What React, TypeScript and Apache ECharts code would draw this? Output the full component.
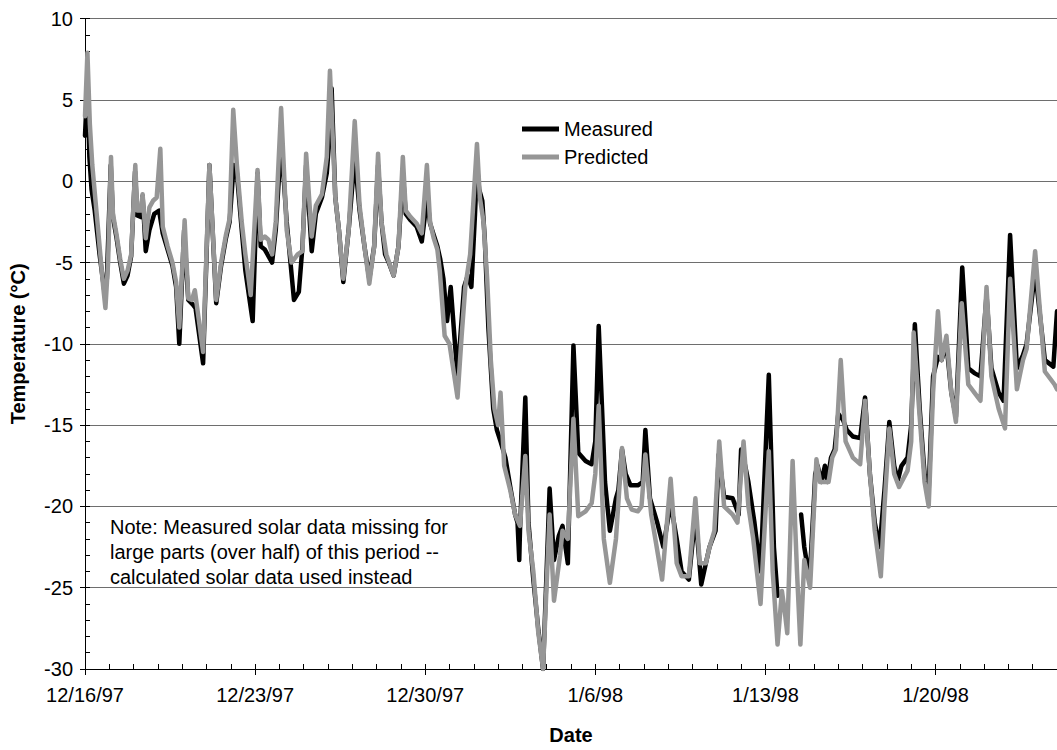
import React, { useEffect, useRef } from "react";
import * as echarts from "echarts";

// Hourly-ish air temperature, days since 12/16/97 -> °C
const measured: ([number, number] | [number, null])[] = [
  [0, 2.8], [0.1, 6.1], [0.18, 1.5], [0.27, -0.5], [0.4, -1.8], [0.6, -4.5], [0.8, -6.8], [0.9, -6.0],
  [1.06, 1.0], [1.15, -2.2], [1.3, -3.5], [1.45, -5.0], [1.6, -6.3], [1.75, -5.8], [1.9, -4.6],
  [2.06, 0.6], [2.15, -2.1], [2.3, -2.2], [2.37, -0.9], [2.5, -4.3], [2.65, -3.0], [2.85, -2.0], [3.05, -1.8],
  [3.2, -3.2], [3.4, -4.2], [3.6, -5.2], [3.75, -6.5], [3.88, -10.0], [4.08, -3.0], [4.25, -7.3], [4.45, -7.6],
  [4.55, -7.8], [4.86, -11.2], [5.12, 1.0], [5.4, -7.5], [5.6, -5.2], [5.8, -3.5], [5.95, -2.5], [6.12, 1.0],
  [6.25, 0.5], [6.45, -3.0], [6.6, -5.5], [6.9, -8.6], [7.1, 0.5], [7.23, -4.0], [7.4, -4.2], [7.55, -4.6],
  [7.7, -5.0], [7.85, -3.0], [8.07, 2.5], [8.3, -2.5], [8.6, -7.3], [8.8, -6.8], [8.95, -4.0], [9.1, 1.0],
  [9.33, -4.3], [9.5, -2.0], [9.75, -1.0], [9.95, 0.5], [10.05, 2.5], [10.15, 5.7], [10.3, -1.0], [10.45, -3.0],
  [10.63, -6.2], [10.85, -3.0], [11.1, 1.5], [11.3, -1.8], [11.5, -4.0], [11.7, -6.0], [11.9, -4.0], [12.06, 1.0],
  [12.2, -2.5], [12.35, -4.5], [12.5, -5.0], [12.7, -5.8], [12.9, -4.0], [13.08, 0.5], [13.2, -2.0], [13.4, -2.4],
  [13.65, -2.8], [13.86, -3.7], [14.08, -1.0], [14.2, -2.6], [14.35, -3.3], [14.5, -4.0], [14.62, -4.8],
  [14.75, -6.0], [14.9, -8.6], [15.05, -6.5], [15.2, -9.5], [15.33, -12.0], [15.45, -9.5], [15.6, -6.5],
  [15.75, -5.8], [15.9, -6.5], [16.05, -2.0], [16.13, 1.0], [16.22, -0.5], [16.35, -1.2], [16.45, -3.5],
  [16.6, -9.0], [16.8, -14.0], [16.95, -15.3], [17.1, -16.0], [17.3, -17.0], [17.5, -18.8], [17.7, -20.5],
  [17.8, -21.0], [17.87, -23.3], [17.9, -21.5], [18.12, -13.3], [18.25, -21.0], [18.45, -24.5], [18.65, -27.5],
  [18.85, -30.0], [19.12, -18.9], [19.3, -23.3], [19.5, -21.8], [19.65, -21.2], [19.87, -23.5], [20.1, -10.1],
  [20.3, -16.7], [20.6, -17.2], [20.85, -17.4], [21.0, -16.0], [21.14, -8.9], [21.4, -18.5], [21.6, -21.5],
  [21.85, -19.5], [21.95, -19.0], [22.1, -16.5], [22.25, -18.0], [22.45, -18.7], [22.75, -18.7], [22.95, -18.5],
  [23.06, -15.3], [23.25, -19.5], [23.55, -21.0], [23.8, -22.5], [24.1, -19.8], [24.35, -22.0], [24.55, -24.0],
  [24.85, -24.5], [25.12, -20.5], [25.36, -24.8], [25.55, -23.5], [25.7, -22.5], [25.95, -21.5], [26.08, -16.8],
  [26.3, -19.4], [26.65, -19.5], [26.9, -20.5], [27.0, -16.5], [27.1, -17.0], [27.3, -18.5], [27.55, -21.0],
  [27.8, -24.0], [28.14, -11.9], [28.35, -22.5], [28.5, -25.5], [29.0, null],
  [29.47, -20.5], [29.6, -22.5], [29.82, -24.5], [30.0, -19.5], [30.05, -18.0], [30.15, -17.5], [30.3, -18.5],
  [30.45, -17.5], [30.55, -18.5], [30.7, -17.0], [30.85, -16.5], [31.0, -14.3], [31.2, -14.7], [31.35, -15.3],
  [31.6, -15.7], [31.9, -15.8], [32.1, -13.3], [32.3, -18.0], [32.5, -21.0], [32.7, -22.5], [32.9, -19.0],
  [33.1, -14.8], [33.3, -17.5], [33.45, -18.4], [33.6, -17.5], [33.85, -17.0], [34.0, -15.0], [34.15, -8.8],
  [34.35, -14.0], [34.55, -18.0], [34.72, -19.0], [34.9, -12.0], [35.1, -10.8], [35.25, -11.0], [35.45, -10.0],
  [35.65, -13.0], [35.84, -14.5], [36.1, -5.3], [36.35, -11.5], [36.6, -11.8], [36.85, -12.0], [37.1, -7.0],
  [37.3, -11.5], [37.6, -13.0], [37.8, -13.5], [38.07, -3.3], [38.35, -11.5], [38.6, -10.7], [38.75, -10.0],
  [39.1, -5.5], [39.5, -11.0], [39.85, -11.4], [40.0, -8.0],
];

const predicted: [number, number][] = [
  [0, 4.0], [0.1, 7.9], [0.2, 3.5], [0.3, 1.0], [0.45, -1.5], [0.6, -4.0], [0.75, -6.5], [0.84, -7.8],
  [0.95, -5.0], [1.07, 1.5], [1.15, -2.0], [1.3, -3.3], [1.45, -4.8], [1.6, -6.0], [1.75, -5.5], [1.9, -4.5],
  [2.07, 1.0], [2.15, -1.8], [2.3, -1.8], [2.37, -0.8], [2.5, -3.5], [2.65, -1.6], [2.8, -1.2], [2.95, -1.0],
  [3.1, 2.0], [3.2, -2.8], [3.4, -4.0], [3.6, -5.0], [3.75, -6.2], [3.88, -9.0], [4.1, -2.4], [4.25, -7.2],
  [4.4, -7.3], [4.52, -6.7], [4.86, -10.5], [5.12, 1.0], [5.4, -7.3], [5.6, -5.0], [5.8, -3.3], [5.95, -2.3],
  [6.1, 4.4], [6.25, 1.0], [6.45, -2.5], [6.6, -4.5], [6.82, -7.0], [7.1, 0.7], [7.23, -3.6], [7.4, -3.4],
  [7.55, -3.6], [7.7, -4.5], [7.85, -2.5], [8.07, 4.5], [8.3, -3.0], [8.5, -5.0], [8.75, -4.5], [8.95, -4.3],
  [9.1, 1.7], [9.33, -3.4], [9.5, -1.5], [9.75, -0.8], [9.95, 1.5], [10.08, 6.8], [10.3, -1.0], [10.45, -3.0],
  [10.63, -6.0], [10.85, -3.0], [11.1, 3.7], [11.3, -1.5], [11.5, -4.0], [11.7, -6.3], [11.9, -4.0], [12.06, 1.7],
  [12.2, -2.5], [12.4, -4.5], [12.7, -5.8], [12.9, -4.0], [13.08, 1.5], [13.2, -1.8], [13.4, -2.2], [13.65, -2.6],
  [13.86, -3.2], [14.07, 1.0], [14.2, -2.5], [14.35, -3.5], [14.5, -4.2], [14.6, -5.5], [14.8, -9.5], [15.0, -10.0],
  [15.33, -13.3], [15.5, -9.5], [15.65, -6.5], [15.85, -4.5], [16.13, 2.3], [16.25, -1.0], [16.4, -2.5],
  [16.55, -6.0], [16.7, -11.0], [16.85, -14.0], [17.0, -15.0], [17.1, -13.0], [17.25, -17.5], [17.5, -19.0],
  [17.7, -20.5], [17.9, -21.2], [18.12, -16.9], [18.25, -21.5], [18.45, -24.0], [18.65, -27.7], [18.85, -30.0],
  [19.12, -20.5], [19.3, -25.8], [19.55, -23.0], [19.65, -21.5], [19.87, -22.0], [20.1, -14.6], [20.3, -20.6],
  [20.6, -20.3], [20.85, -19.8], [21.0, -18.0], [21.14, -13.8], [21.35, -22.0], [21.6, -24.7], [21.85, -22.0],
  [22.1, -16.4], [22.3, -19.5], [22.5, -20.2], [22.75, -20.3], [22.9, -20.0], [23.06, -16.8], [23.3, -20.5],
  [23.47, -22.0], [23.75, -24.5], [24.1, -18.3], [24.35, -23.5], [24.55, -24.3], [24.85, -24.3], [25.12, -19.5],
  [25.3, -23.5], [25.55, -23.5], [25.7, -22.5], [25.9, -21.5], [26.1, -16.0], [26.3, -20.0], [26.65, -20.5],
  [26.85, -21.0], [27.1, -16.0], [27.3, -20.0], [27.5, -22.0], [27.8, -26.0], [28.14, -16.6], [28.3, -24.0],
  [28.5, -28.5], [28.68, -25.2], [28.8, -26.5], [28.9, -27.8], [29.12, -17.2], [29.3, -24.0], [29.44, -28.5],
  [29.6, -23.3], [29.84, -25.0], [30.1, -17.1], [30.25, -18.5], [30.45, -18.5], [30.6, -18.5], [30.75, -17.0],
  [30.9, -16.5], [31.1, -11.0], [31.3, -16.0], [31.6, -17.0], [31.9, -17.4], [32.1, -13.5], [32.3, -18.0],
  [32.5, -21.5], [32.75, -24.3], [32.9, -20.0], [33.1, -15.2], [33.3, -18.0], [33.5, -18.8], [33.85, -17.8],
  [34.0, -16.0], [34.1, -9.3], [34.35, -14.5], [34.55, -18.5], [34.72, -20.0], [34.9, -13.0], [35.1, -8.0],
  [35.25, -11.0], [35.45, -9.5], [35.65, -13.0], [35.84, -14.8], [36.08, -7.5], [36.35, -12.5], [36.6, -13.0],
  [36.85, -13.5], [37.1, -6.5], [37.3, -12.0], [37.6, -14.0], [37.86, -15.2], [38.07, -6.0], [38.35, -12.8],
  [38.6, -11.0], [38.75, -10.3], [39.1, -4.3], [39.5, -11.7], [39.9, -12.5], [40.0, -12.8],
];

// Weekly date labels (every 7 days from 12/16/97)
const weekLabels = ["12/16/97", "12/23/97", "12/30/97", "1/6/98", "1/13/98", "1/20/98"];

const noteLines = [
  "Note: Measured solar data missing for",
  "large parts (over half) of this period --",
  "calculated solar data used instead",
];

const FONT = "'Liberation Sans', Arial, Helvetica, sans-serif";

export default function App() {
  const ref = useRef<HTMLDivElement>(null);

  useEffect(() => {
    if (!ref.current) return;
    const chart = echarts.init(ref.current, undefined, { renderer: "svg" });
    const axisBlack = { lineStyle: { color: "#000", width: 1 } };

    chart.setOption({
      animation: false,
      backgroundColor: "#fff",
      textStyle: { fontFamily: FONT },
      grid: { left: 84.5, right: 0, top: 18.7, bottom: 75.3, containLabel: false },
      legend: {
        data: ["Measured", "Predicted"],
        orient: "vertical",
        left: 517,
        top: 114,
        icon: "rect",
        itemWidth: 37,
        itemHeight: 5,
        itemGap: 8,
        textStyle: { fontSize: 20, color: "#000", fontFamily: FONT },
      },
      xAxis: [
        {
          type: "value",
          min: 0,
          max: 40,
          interval: 7,
          name: "Date",
          nameLocation: "middle",
          nameGap: 56,
          nameTextStyle: { fontSize: 20, fontWeight: "bold", color: "#000", fontFamily: FONT },
          axisLine: { onZero: false, ...axisBlack },
          axisTick: { inside: false, length: 6, ...axisBlack },
          axisLabel: {
            fontSize: 20,
            color: "#000",
            margin: 16,
            showMaxLabel: false,
            formatter: (v: number) => (v % 7 === 0 ? weekLabels[v / 7] ?? "" : ""),
          },
          splitLine: { show: false },
        },
        {
          type: "value",
          min: 0,
          max: 40,
          interval: 1,
          position: "bottom",
          axisLine: { show: false, onZero: false },
          axisTick: { inside: true, length: 5, ...axisBlack },
          axisLabel: { show: false },
          splitLine: { show: false },
        },
      ],
      yAxis: [
        {
          type: "value",
          min: -30,
          max: 10,
          interval: 5,
          name: "Temperature (°C)",
          nameLocation: "middle",
          nameRotate: 90,
          nameGap: 57,
          nameTextStyle: { fontSize: 20, fontWeight: "bold", color: "#000", fontFamily: FONT },
          axisLine: { show: true, onZero: false, ...axisBlack },
          axisTick: { inside: false, length: 5, ...axisBlack },
          axisLabel: { fontSize: 20, color: "#000", margin: 12 },
          splitLine: { show: true, lineStyle: { color: "#6e6e6e", width: 1 } },
        },
        {
          type: "value",
          min: -30,
          max: 10,
          interval: 1,
          position: "left",
          axisLine: { show: false, onZero: false },
          axisTick: { inside: true, length: 5, ...axisBlack },
          axisLabel: { show: false },
          splitLine: { show: false },
        },
      ],
      series: [
        {
          name: "Measured",
          type: "line",
          xAxisIndex: 0,
          yAxisIndex: 0,
          data: measured,
          showSymbol: false,
          symbol: "none",
          connectNulls: false,
          lineStyle: { color: "#000", width: 4.5, join: "round", cap: "round" },
          itemStyle: { color: "#000" },
          z: 3,
        },
        {
          name: "Predicted",
          type: "line",
          xAxisIndex: 0,
          yAxisIndex: 0,
          data: predicted,
          showSymbol: false,
          symbol: "none",
          lineStyle: { color: "#969696", width: 4.5, join: "round", cap: "round" },
          itemStyle: { color: "#969696" },
          z: 4,
        },
      ],
      graphic: [
        {
          type: "group",
          left: 106,
          top: 513,
          z: 100,
          children: [
            {
              type: "rect",
              shape: { x: 0, y: 0, width: 373, height: 88 },
              style: { fill: "#fff" },
            },
            {
              type: "text",
              x: 4,
              y: 1,
              style: {
                text: noteLines.join("\n"),
                fontSize: 20,
                fontFamily: FONT,
                lineHeight: 25,
                fill: "#000",
              },
            },
          ],
        },
      ],
    });

    return () => chart.dispose();
  }, []);

  return (
    <div
      ref={ref}
      style={{ position: "absolute", left: 0, top: 0, width: 1057, height: 750 }}
    />
  );
}
